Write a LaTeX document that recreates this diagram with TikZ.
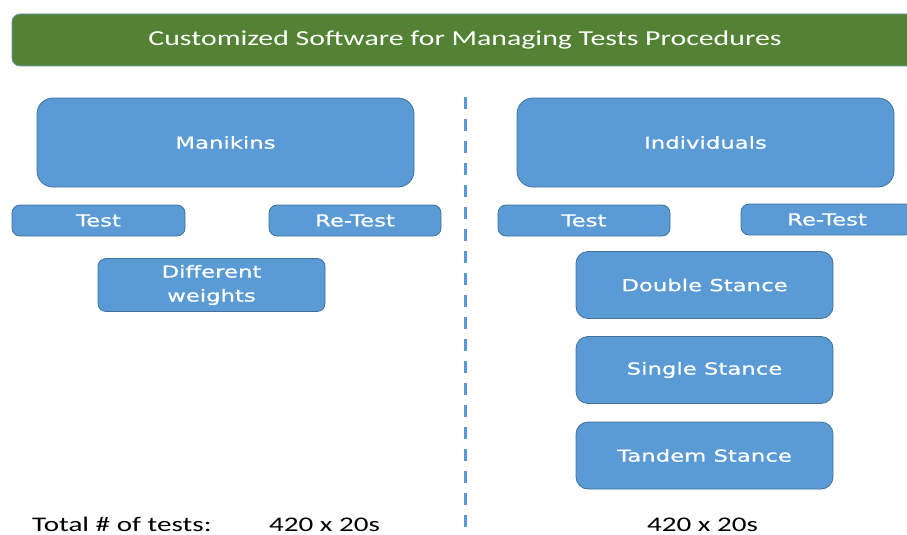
\documentclass[tikz,border=0pt]{standalone}
\usepackage{fontspec}
\newfontfamily\boxfont[FakeStretch=1.38,FakeBold=0.8]{DejaVu Sans}
\newfontfamily\titlefont[FakeStretch=1.4]{Carlito}
\definecolor{boxblue}{HTML}{5B9BD5}
\definecolor{boxedge}{HTML}{41719C}
\definecolor{bangreen}{HTML}{548235}
\definecolor{banedge}{HTML}{6E8FB8}
\begin{document}
\begin{tikzpicture}[x=1pt,y=-1pt,
  box/.style={draw=boxedge, line width=0.8pt, fill=boxblue, rounded corners=8pt,
    text=white, inner sep=0pt, align=center,
    font={\boxfont\fontsize{16.5}{24}\selectfont}},
  bigbox/.style={box, rounded corners=16pt},
  banner/.style={draw=banedge, line width=0.8pt, fill=bangreen, rounded corners=8pt,
    text=white, inner sep=0pt, font={\titlefont\fontsize{21.3}{24}\selectfont}},
  plain/.style={inner sep=0pt, text=black, font={\titlefont\fontsize{20.8}{24}\selectfont}}]
\useasboundingbox (0,0) rectangle (907,535);
\fill[white] (0,0) rectangle (907,535);
% banner
\node[banner, minimum width=906pt, minimum height=52pt] (ban) at (465,40) {Customized Software for Managing Tests Procedures};
% divider
\coordinate (dtop) at (465,97);
\coordinate (dbot) at (465,540);
\draw[boxblue, line width=3pt, dash pattern=on 12pt off 10pt] (dtop) -- (dbot);
% left side
\node[bigbox, minimum width=377pt, minimum height=89pt] (man) at (225.5,142.5) {Manikins};
\node[box, minimum width=173pt, minimum height=31pt] (t1) at (98.5,220.5) {Test};
\node[box, minimum width=172pt, minimum height=31pt] (r1) at (355,220.5) {Re-Test};
\node[box, minimum width=227pt, minimum height=53pt] (dw) at (211.5,285) {Different\\weights};
% right side
\node[bigbox, minimum width=377pt, minimum height=89pt] (ind) at (705.5,142.5) {Individuals};
\node[box, minimum width=172pt, minimum height=31pt] (t2) at (584,220.5) {Test};
\node[box, minimum width=172pt, minimum height=31pt] (r2) at (827,219.5) {Re-Test};
\node[bigbox, rounded corners=12pt, minimum width=257pt, minimum height=67pt] (ds) at (704.5,285) {Double Stance};
\node[bigbox, rounded corners=12pt, minimum width=257pt, minimum height=67pt] (ss) at (704.5,370) {Single Stance};
\node[bigbox, rounded corners=12pt, minimum width=257pt, minimum height=67pt] (ts) at (704.5,455.5) {Tandem Stance};
% bottom texts
\node[plain, anchor=base west] (tot) at (32,531) {Total \# of tests:};
\node[plain, anchor=base] (n1) at (324.5,531) {420 x 20s};
\node[plain, anchor=base] (n2) at (702.5,531) {420 x 20s};
\end{tikzpicture}
\end{document}
